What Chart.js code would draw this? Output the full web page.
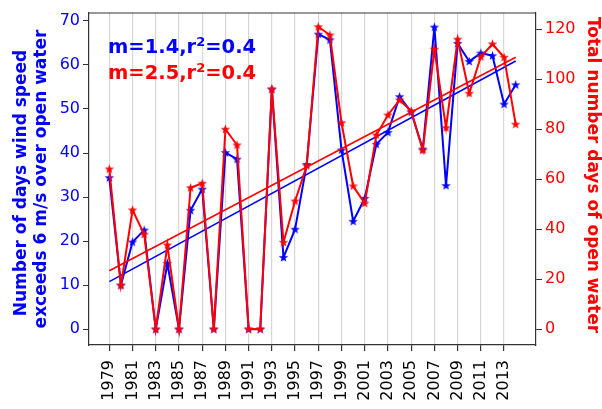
<!DOCTYPE html>
<html>
<head>
<meta charset="utf-8">
<script src="https://cdn.jsdelivr.net/npm/chart.js@4.4.1/dist/chart.umd.min.js"></script>
<style>
  html, body { margin: 0; padding: 0; background: #fff; }
  #wrap { width: 602px; height: 409px; position: relative; }
</style>
</head>
<body>
<div id="wrap"><canvas id="windChart"></canvas></div>
<script>
// Wind days vs open water days, 1979-2014

const years = [1979, 1980, 1981, 1982, 1983, 1984, 1985, 1986, 1987, 1988, 1989, 1990,
               1991, 1992, 1993, 1994, 1995, 1996, 1997, 1998, 1999, 2000, 2001, 2002,
               2003, 2004, 2005, 2006, 2007, 2008, 2009, 2010, 2011, 2012, 2013, 2014];

// days wind speed > 6 m/s (left axis)
const windDays = [34.4, 10.0, 19.8, 22.5, 0, 14.9, 0, 27.0, 31.8, 0, 40.1, 38.6,
                  0, 0, 54.5, 16.3, 22.7, 37.4, 67.0, 65.7, 40.7, 24.5, 29.7, 42.0,
                  44.7, 52.8, 49.3, 40.9, 68.6, 32.6, 64.9, 60.8, 62.7, 62.1, 51.1, 55.5];

// total open water days (right axis)
const openDays = [64, 17.5, 47.6, 37.9, 0, 33.6, 0, 56.5, 58.3, 0, 79.9, 73.6,
                  0, 0, 96, 34.7, 51.2, 65.3, 120.9, 117.6, 82.5, 57.2, 50.3, 77.6,
                  85.6, 91.6, 87.2, 71.5, 111.9, 80.5, 115.9, 94.3, 108.9, 114, 108.7, 81.9];

// fitted trend lines, read at the ends
const trendYears = [1979, 2014];
const windTrend = [10.8, 60.9];
const openTrend = [23.3, 108.7];

const xTickYears = [1979, 1981, 1983, 1985, 1987, 1989, 1991, 1993, 1995, 1997, 1999,
                    2001, 2003, 2005, 2007, 2009, 2011, 2013];
const leftTicks = [0, 10, 20, 30, 40, 50, 60, 70];
const rightTicks = [0, 20, 40, 60, 80, 100, 120];

const fitLabels = [['m=1.4,r', '2', '=0.4'], ['m=2.5,r', '2', '=0.4']];

const FONT = 'DejaVu Sans';
Chart.defaults.font.family = FONT;

// filled 5-point star like matplotlib's '*'
function makeStar(color) {
  const c = document.createElement('canvas');
  c.width = 11; c.height = 11;
  const g = c.getContext('2d');
  const R = 5, r = 2.0, cx = 5.5, cy = 5.8;
  g.beginPath();
  for (let i = 0; i < 10; i++) {
    const a = -Math.PI / 2 + i * Math.PI / 5;
    const rr = i % 2 ? r : R;
    g.lineTo(cx + rr * Math.cos(a), cy + rr * Math.sin(a));
  }
  g.closePath();
  g.fillStyle = color;
  g.fill();
  return c;
}

const pts = (xs, ys) => xs.map((x, i) => ({ x: x, y: ys[i] }));

// extra drawing: top spine, axis titles, fit text
const extras = {
  id: 'extras',
  afterDraw(chart) {
    const ctx = chart.ctx;
    const a = chart.chartArea;
    ctx.save();
    ctx.strokeStyle = '#333';
    ctx.lineWidth = 1.2;
    ctx.beginPath();
    ctx.moveTo(a.left, a.top);
    ctx.lineTo(a.right, a.top);
    ctx.stroke();

    // left title, two lines
    ctx.font = 'bold 17px ' + FONT;
    ctx.textAlign = 'center';
    ctx.textBaseline = 'middle';
    ctx.fillStyle = 'blue';
    ctx.save();
    ctx.translate(22, 183);
    ctx.rotate(-Math.PI / 2);
    ctx.fillText('Number of days wind speed', 0, 0);
    ctx.restore();
    ctx.save();
    ctx.translate(42, 179);
    ctx.rotate(-Math.PI / 2);
    ctx.fillText('exceeds 6 m/s over open water', 0, 0);
    ctx.restore();

    // right title
    ctx.fillStyle = 'red';
    ctx.save();
    ctx.translate(592, 175);
    ctx.rotate(Math.PI / 2);
    ctx.fillText('Total number days of open water', 0, 0);
    ctx.restore();

    // slope text with superscript
    const colors = ['blue', 'red'];
    const bases = [53, 79];
    ctx.textAlign = 'left';
    ctx.textBaseline = 'alphabetic';
    fitLabels.forEach((parts, i) => {
      let x = 108;
      ctx.fillStyle = colors[i];
      ctx.font = 'bold 19.5px ' + FONT;
      ctx.fillText(parts[0], x, bases[i]);
      x += ctx.measureText(parts[0]).width;
      ctx.font = 'bold 13px ' + FONT;
      ctx.fillText(parts[1], x, bases[i] - 7);
      x += ctx.measureText(parts[1]).width;
      ctx.font = 'bold 19.5px ' + FONT;
      ctx.fillText(parts[2], x, bases[i]);
    });
    ctx.restore();
  }
};

const ctxWind = document.getElementById('windChart').getContext('2d');
const windChart = new Chart(ctxWind, {
  type: 'line',
  data: {
    datasets: [
      {
        data: pts(trendYears, openTrend),
        yAxisID: 'yR',
        borderColor: 'red',
        borderWidth: 1.6,
        pointRadius: 0
      },
      {
        data: pts(years, openDays),
        yAxisID: 'yR',
        borderColor: 'red',
        borderWidth: 2,
        pointStyle: makeStar('red'),
        pointRadius: 5
      },
      {
        data: pts(trendYears, windTrend),
        yAxisID: 'yL',
        borderColor: 'blue',
        borderWidth: 1.6,
        pointRadius: 0
      },
      {
        data: pts(years, windDays),
        yAxisID: 'yL',
        borderColor: 'blue',
        borderWidth: 2,
        pointStyle: makeStar('blue'),
        pointRadius: 5
      }
    ]
  },
  options: {
    responsive: true,
    maintainAspectRatio: false,
    animation: false,
    layout: { padding: { top: 13, left: 0, right: 0, bottom: 0 } },
    plugins: { legend: { display: false }, tooltip: { enabled: false } },
    elements: { line: { tension: 0 } },
    scales: {
      x: {
        type: 'linear',
        min: 1977.25,
        max: 2015.75,
        afterBuildTicks: s => { s.ticks = xTickYears.map(v => ({ value: v })); },
        afterFit: s => { s.height = 64; },
        grid: { color: '#d6d6d6', lineWidth: 1.2, tickLength: 6, tickColor: '#333' },
        border: { color: '#333', width: 1.2 },
        ticks: {
          autoSkip: false, minRotation: 90, maxRotation: 90, padding: 9,
          color: '#000', font: { size: 16 },
          callback: v => String(v)
        }
      },
      yL: {
        position: 'left',
        min: -3.6,
        max: 71.8,
        afterBuildTicks: s => { s.ticks = leftTicks.map(v => ({ value: v })); },
        afterFit: s => { s.width = 89; },
        grid: { drawOnChartArea: false, tickLength: 6, tickColor: '#333' },
        border: { color: '#333', width: 1.2 },
        ticks: { color: 'blue', font: { size: 16 }, padding: 3 }
      },
      yR: {
        position: 'right',
        min: -6.4,
        max: 126.4,
        afterBuildTicks: s => { s.ticks = rightTicks.map(v => ({ value: v })); },
        afterFit: s => { s.width = 66; },
        grid: { drawOnChartArea: false, tickLength: 6, tickColor: '#333' },
        border: { color: '#333', width: 1.2 },
        ticks: { color: 'red', font: { size: 16 }, padding: 3 }
      }
    }
  },
  plugins: [extras]
});
</script>
</body>
</html>
